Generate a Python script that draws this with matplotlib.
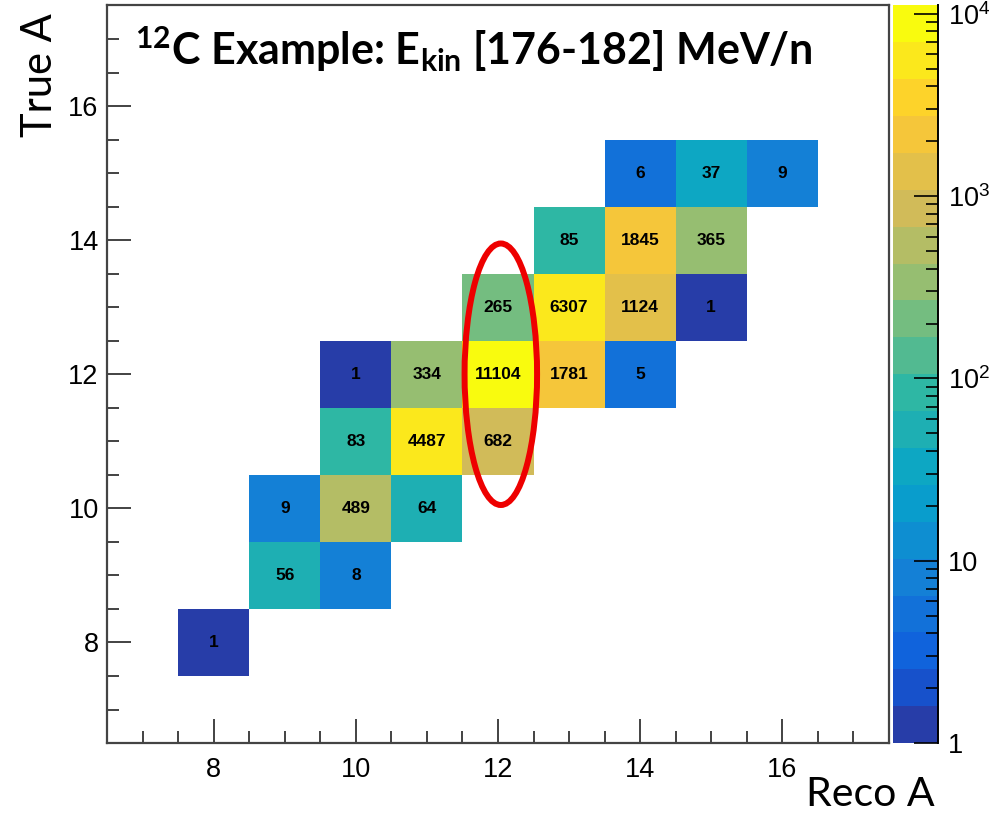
import numpy as np
import matplotlib
matplotlib.use("Agg")
import matplotlib.pyplot as plt
from matplotlib.colors import ListedColormap, LogNorm
from matplotlib.patches import Ellipse
from matplotlib.ticker import FixedLocator, MultipleLocator

plt.rcParams['font.family'] = ['Liberation Sans', 'DejaVu Sans']

# Bin contents of the migration matrix (reconstructed A vs true A)
reco_a = [8, 9, 10, 9, 10, 11, 10, 11, 12, 10, 11, 12, 13, 14,
          12, 13, 14, 15, 13, 14, 15, 14, 15, 16]
true_a = [8, 9, 9, 10, 10, 10, 11, 11, 11, 12, 12, 12, 12, 12,
          13, 13, 13, 13, 14, 14, 14, 15, 15, 15]
counts = [1, 56, 8, 9, 489, 64, 83, 4487, 682, 1, 334, 11104, 1781, 5,
          265, 6307, 1124, 1, 85, 1845, 365, 6, 37, 9]

cbar_ticks = [1, 10, 100, 1000, 10000]
cbar_labels = ['1', '10', r'$\mathregular{10^{2}}$', r'$\mathregular{10^{3}}$',
               r'$\mathregular{10^{4}}$']

# ROOT "kBird" palette, 20 contour levels
stops = [0.0, 0.125, 0.25, 0.375, 0.5, 0.625, 0.75, 0.875, 1.0]
red = [0.2082, 0.0592, 0.0780, 0.0232, 0.1802, 0.5301, 0.8186, 0.9956, 0.9764]
green = [0.1664, 0.3599, 0.5041, 0.6419, 0.7178, 0.7492, 0.7328, 0.7862, 0.9832]
blue = [0.5293, 0.8684, 0.8385, 0.7914, 0.6425, 0.4662, 0.3499, 0.1968, 0.0539]
n_levels = 20
pos = [min(int((i + 0.99) * 255 / n_levels), 254) / 254 for i in range(n_levels)]
level_colors = [(np.interp(p, stops, red), np.interp(p, stops, green),
                 np.interp(p, stops, blue)) for p in pos]
cmap = ListedColormap(level_colors)

edges = np.arange(6.5, 18.0, 1.0)
hist, xe, ye = np.histogram2d(reco_a, true_a, bins=[edges, edges], weights=counts)
hist = np.ma.masked_equal(hist, 0)
norm = LogNorm(vmin=1, vmax=max(counts))

fig = plt.figure(figsize=(9.91, 8.15), dpi=100)
ax = fig.add_axes([0.108, 0.0883, 0.789, 0.905])
cax = fig.add_axes([0.9011, 0.0883, 0.0454, 0.905])

mesh = ax.pcolormesh(xe, ye, hist.T, cmap=cmap, norm=norm)

# bin content labels
for x, y, c in zip(reco_a, true_a, counts):
    ax.text(x, y, str(c), ha='center', va='center', fontsize=12.5,
            fontweight='bold', color='black')

ax.set_xlim(6.5, 17.5)
ax.set_ylim(6.5, 17.5)
ax.xaxis.set_major_locator(MultipleLocator(2))
ax.xaxis.set_minor_locator(MultipleLocator(0.5))
ax.yaxis.set_major_locator(MultipleLocator(2))
ax.yaxis.set_minor_locator(MultipleLocator(0.5))
ax.tick_params(which='both', direction='in', top=False, right=False,
               width=1.2, color='#222222', labelsize=19.5)
ax.tick_params(which='major', length=17)
ax.tick_params(which='minor', length=8.5)
ax.tick_params(axis='x', pad=10)
ax.tick_params(axis='y', pad=6)
for sp in ax.spines.values():
    sp.set_linewidth(1.6)
    sp.set_color('#444444')

# highlighted column around the carbon bins
ax.add_patch(Ellipse((12.04, 12.0), 1.02, 3.9, fill=False,
                     edgecolor='#ee0000', linewidth=4.3, zorder=5))

cb = fig.colorbar(mesh, cax=cax)
cb.outline.set_visible(False)
cax.axvline(1.0, color='black', linewidth=1.4, clip_on=False)
cb.set_ticks(cbar_ticks)
cb.set_ticklabels(cbar_labels)
minor = [m * d for d in [1, 10, 100, 1000] for m in range(2, 10)]
minor = [v for v in minor if v <= max(counts)]
cax.yaxis.set_minor_locator(FixedLocator(minor))
cax.tick_params(which='both', direction='in', right=True, left=False,
                width=1.2, color='black', labelsize=19.5, pad=7)
cax.tick_params(which='major', length=17)
cax.tick_params(which='minor', length=8.5)

fig.text(135 / 991, 1 - 65 / 815,
         r'$\mathregular{^{12}}$C Example: E$\mathregular{_{kin}}$ [176-182] MeV/n',
         family='Lato', fontweight='bold', fontsize=31, va='baseline', ha='left')
fig.text(40 / 991, 1 - 75 / 815, 'True A', family='Lato', fontsize=30,
         rotation=90, ha='center', va='center')
fig.text(935 / 991, 1 - 806 / 815, 'Reco A', family='Lato', fontsize=29.5,
         ha='right', va='baseline')

fig.savefig('out.png', dpi=100)
